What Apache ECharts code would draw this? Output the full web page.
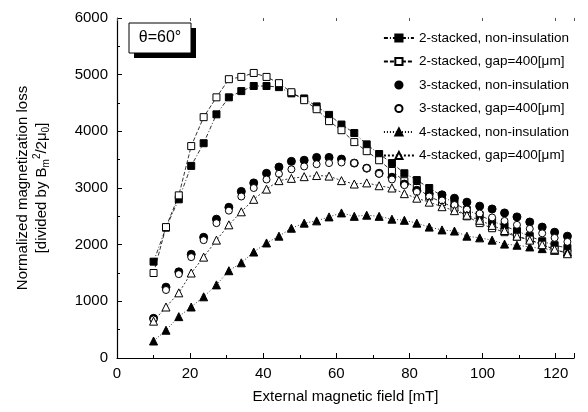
<!DOCTYPE html>
<html>
<head>
<meta charset="utf-8">
<script src="https://cdn.jsdelivr.net/npm/echarts@6/dist/echarts.min.js"></script>
<style>
  html, body { margin: 0; padding: 0; background: #fff; }
  #chart { width: 588px; height: 412px; }
</style>
</head>
<body>
<div id="chart"></div>
<script>
// external field [mT]
const fieldList = [10, 13.4, 16.9, 20.3, 23.7, 27.2, 30.6, 34, 37.4, 40.9, 44.3, 47.7, 51.2, 54.6, 58, 61.4, 64.9,
  68.3, 71.7, 75.2, 78.6, 82, 85.4, 88.9, 92.3, 95.7, 99.2, 102.6, 106, 109.4, 112.9, 116.3, 119.7, 123.2]

const stack2Non = [1700, 2300, 2800, 3390, 3790, 4300, 4600, 4710, 4800, 4800, 4780, 4670, 4580, 4440, 4290, 4120, 3970,
  3770, 3600, 3440, 3260, 3140, 3000, 2860, 2730, 2610, 2520, 2420, 2330, 2240, 2150, 2060, 1990, 1940]
const stack2Gap = [1500, 2310, 2870, 3740, 4250, 4600, 4920, 4960, 5030, 4960, 4850, 4690, 4550, 4390, 4180, 4020, 3810,
  3650, 3490, 3300, 3120, 3000, 2850, 2750, 2650, 2500, 2380, 2290, 2220, 2140, 2090, 2000, 1910, 1850]
const stack3Non = [700, 1250, 1520, 1830, 2130, 2450, 2660, 2940, 3090, 3260, 3370, 3470, 3490, 3540, 3540, 3510, 3440,
  3350, 3260, 3190, 3070, 2960, 2900, 2880, 2820, 2750, 2680, 2630, 2560, 2490, 2400, 2310, 2220, 2150]
const stack3Gap = [680, 1200, 1480, 1780, 2080, 2380, 2600, 2850, 3000, 3150, 3250, 3330, 3380, 3420, 3440, 3450, 3440,
  3350, 3250, 3150, 3050, 2930, 2850, 2780, 2700, 2620, 2550, 2480, 2420, 2350, 2280, 2200, 2120, 2050]
const stack4Non = [300, 490, 730, 900, 1080, 1290, 1540, 1680, 1870, 2030, 2150, 2290, 2380, 2420, 2490, 2560, 2500,
  2520, 2500, 2450, 2430, 2380, 2310, 2260, 2240, 2150, 2120, 2080, 2010, 1990, 1960, 1930, 1900, 1870]
const stack4Gap = [650, 900, 1150, 1500, 1780, 2080, 2350, 2580, 2800, 2980, 3130, 3170, 3200, 3220, 3210, 3130, 3070,
  3090, 3040, 3000, 2900, 2820, 2750, 2670, 2600, 2520, 2430, 2340, 2250, 2150, 2080, 2000, 1920, 1840]

const seriesNames = [
  '2-stacked, non-insulation',
  '2-stacked, gap=400[μm]',
  '3-stacked, non-insulation',
  '3-stacked, gap=400[μm]',
  '4-stacked, non-insulation',
  '4-stacked, gap=400[μm]'
]

const FONT = 'Liberation Sans, Arial, sans-serif'

const pairs = (arr) => fieldList.map((x, i) => [x, arr[i]])

const makeSeries = (name, arr, symbol, filled, size, lineType) => {
  return {
    name: name,
    type: 'line',
    data: pairs(arr),
    symbol: symbol,
    symbolSize: size,
    showSymbol: true,
    itemStyle: {
      color: filled ? '#000' : '#fff',
      borderColor: '#000',
      borderWidth: 1
    },
    lineStyle: lineType
      ? { color: '#000', width: 0.8, type: lineType }
      : { width: 0, opacity: 0 },
    emphasis: { disabled: true },
    animation: false
  }
}

const myChart = echarts.init(document.getElementById('chart'))
const option = {
  backgroundColor: '#fff',
  animation: false,
  grid: { left: 117, right: 14, top: 18, bottom: 54 },
  legend: {
    orient: 'vertical',
    right: 14,
    top: 26,
    itemWidth: 30,
    itemHeight: 9,
    itemGap: 9.5,
    textStyle: { fontFamily: FONT, fontSize: 13.5, color: '#000' },
    data: seriesNames
  },
  xAxis: [
    {
      type: 'value',
      min: 0,
      max: 125,
      interval: 20,
      name: 'External magnetic field [mT]',
      nameLocation: 'middle',
      nameGap: 31,
      nameTextStyle: { fontFamily: FONT, fontSize: 15, color: '#000' },
      axisLine: { lineStyle: { color: '#000', width: 1.2 } },
      axisTick: { inside: true, length: 5, lineStyle: { color: '#000' } },
      minorTick: { show: true, splitNumber: 2, length: 3, lineStyle: { color: '#000' } },
      axisLabel: {
        fontFamily: FONT,
        fontSize: 15,
        color: '#000',
        margin: 8,
        showMaxLabel: false,
        formatter: (v) => String(v)
      },
      splitLine: { show: false }
    },
    {
      type: 'value',
      position: 'top',
      min: 0,
      max: 125,
      interval: 20,
      axisLine: { show: false },
      axisTick: { inside: true, length: 3, lineStyle: { color: '#555' } },
      axisLabel: { show: false },
      splitLine: { show: false }
    }
  ],
  yAxis: {
    type: 'value',
    min: 0,
    max: 6000,
    interval: 1000,
    name: '{a|Normalized magnetization loss}\n{a|[divided by B}{sub|m}{sup|2}{a|/2μ}{sub|0}{a|]}',
    nameLocation: 'middle',
    nameGap: 66,
    nameRotate: 90,
    nameTextStyle: {
      fontFamily: FONT,
      color: '#000',
      rich: {
        a: { fontFamily: FONT, fontSize: 15, color: '#000', lineHeight: 19 },
        sup: { fontFamily: FONT, fontSize: 10, color: '#000', verticalAlign: 'top', lineHeight: 19, padding: [0, 0, 8, 0] },
        sub: { fontFamily: FONT, fontSize: 10, color: '#000', verticalAlign: 'bottom', lineHeight: 19, padding: [8, 0, 0, 0] }
      }
    },
    axisLine: { show: true, lineStyle: { color: '#000', width: 1.2 } },
    axisTick: { inside: true, length: 5, lineStyle: { color: '#000' } },
    minorTick: { show: true, splitNumber: 2, length: 3, lineStyle: { color: '#000' } },
    axisLabel: { fontFamily: FONT, fontSize: 15, color: '#000', margin: 9, formatter: (v) => String(v) },
    splitLine: { show: false }
  },
  graphic: [
    {
      type: 'rect',
      shape: { x: 134, y: 28, width: 62, height: 30 },
      style: { fill: '#000' },
      z: 10
    },
    {
      type: 'rect',
      shape: { x: 129, y: 23, width: 62, height: 30 },
      style: { fill: '#fff', stroke: '#000', lineWidth: 1 },
      z: 11
    },
    {
      type: 'text',
      x: 160,
      y: 38,
      style: {
        text: 'θ=60°',
        font: '16px ' + FONT,
        fill: '#000',
        align: 'center',
        verticalAlign: 'middle'
      },
      z: 12
    }
  ],
  series: [
    makeSeries(seriesNames[0], stack2Non, 'rect', true, 7, [4, 2, 1, 2]),
    makeSeries(seriesNames[1], stack2Gap, 'rect', false, 7, [4, 2]),
    makeSeries(seriesNames[2], stack3Non, 'circle', true, 8, null),
    makeSeries(seriesNames[3], stack3Gap, 'circle', false, 7, null),
    makeSeries(seriesNames[4], stack4Non, 'triangle', true, 8, [1, 2]),
    makeSeries(seriesNames[5], stack4Gap, 'triangle', false, 8, [2, 2])
  ]
}
myChart.setOption(option)
</script>
</body>
</html>
